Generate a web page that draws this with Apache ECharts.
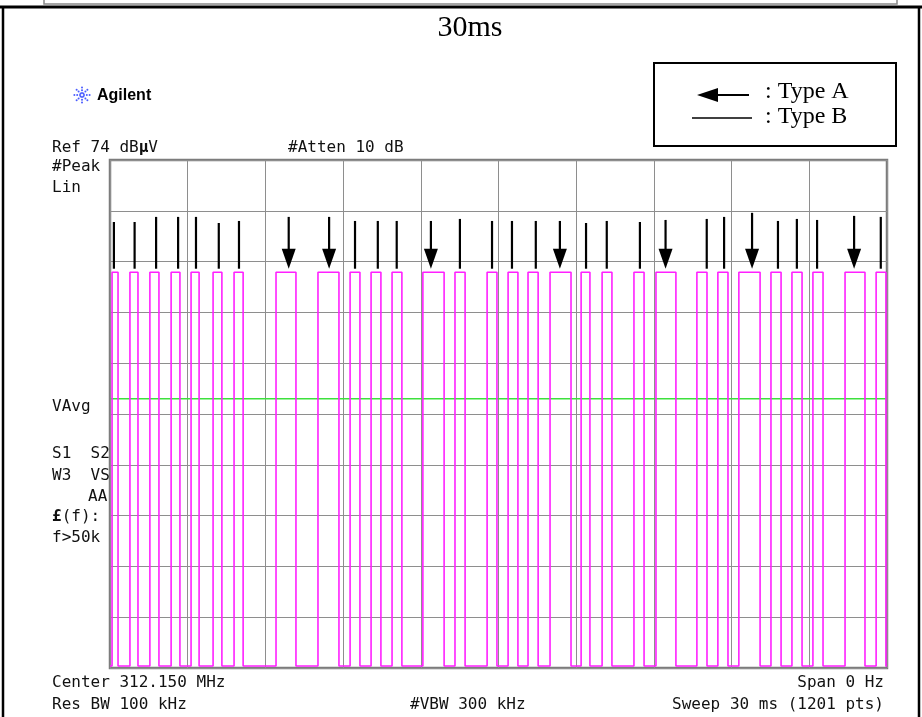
<!DOCTYPE html>
<html>
<head>
<meta charset="utf-8">
<script src="https://cdn.jsdelivr.net/npm/echarts@6/dist/echarts.min.js"></script>
<style>
html,body{margin:0;padding:0;background:#fff;}
#chart{width:922px;height:717px;}
</style>
</head>
<body>
<div id="chart"></div>
<script>
// ---- Data (time in ms, level in % of screen height) ----
var pulseStart = [0.08,0.77,1.54,2.36,3.13,3.98,4.79,6.41,8.03,9.27,10.08,10.89,12.08,13.32,14.56,15.37,16.14,16.99,18.19,19.00,20.23,21.08,22.66,23.47,24.28,25.52,26.33,27.14,28.38,29.58];
var pulseEnd   = [0.31,1.08,1.89,2.70,3.44,4.32,5.14,7.18,8.84,9.65,10.46,11.27,12.90,13.71,14.94,15.75,16.53,17.80,18.53,19.38,20.62,21.85,23.05,23.86,25.10,25.91,26.72,27.53,29.15,29.96];
var pulseHigh = 77.9;
var pulseLow = 0.4;
var markerX    = [0.15,0.95,1.78,2.63,3.32,4.20,4.98,6.90,8.46,9.46,10.34,11.07,12.39,13.51,14.75,15.52,16.44,17.37,18.38,19.18,20.46,21.45,23.04,23.71,24.79,25.79,26.52,27.30,28.73,29.76];
var markerTop  = [87.8,87.8,88.8,88.8,88.8,87.6,88.0,88.8,88.8,88.0,88.0,88.0,88.0,88.4,88.0,88.0,88.0,88.0,87.6,88.0,87.8,88.2,88.4,88.8,89.6,88.0,88.4,88.2,89.0,88.8];
var markerType = ['B','B','B','B','B','B','B','A','A','B','B','B','A','B','B','B','B','A','B','B','B','A','B','B','A','B','B','B','A','B'];
var markerBottom = 78.6;
var vavgLevel = 53.0;
var sweepMs = 30;
var xDivisions = 10;
var yDivisions = 10;

// ---- Build trace from pulse edges ----
var trace = [[0, pulseLow]];
for (var i = 0; i < pulseStart.length; i++) {
  trace.push([pulseStart[i], pulseLow]);
  trace.push([pulseStart[i], pulseHigh]);
  trace.push([pulseEnd[i], pulseHigh]);
  trace.push([pulseEnd[i], pulseLow]);
}
trace.push([sweepMs, pulseLow]);

var markers = markerX.map(function (x, i) { return [x, markerTop[i], markerType[i] === 'A' ? 1 : 0]; });

var mono = '"DejaVu Sans Mono", monospace';
var chart = echarts.init(document.getElementById('chart'));

function txt(x, y, s, align, extra) {
  var o = { type: 'text', x: x, y: y, style: { text: s, font: '16px ' + mono, fill: '#111', textAlign: align || 'left', textVerticalAlign: 'middle' }, z: 10 };
  if (extra) o.style.rich = extra;
  return o;
}

var starDots = [];
(function () {
  var cx = 82, cy = 95;
  for (var k = 0; k < 8; k++) {
    var a = k * Math.PI / 4;
    for (var r = 2; r <= 8; r += 2.8) {
      starDots.push({ type: 'circle', shape: { cx: cx + r * Math.cos(a), cy: cy + r * Math.sin(a), r: 1 }, style: { fill: '#4a5cff' }, z: 10 });
    }
  }
})();

var richMu = { b: { font: 'bold 16px ' + mono, fill: '#111' }, n: { font: '16px ' + mono, fill: '#111' } };

var graphics = [
  // outer frame
  { type: 'rect', shape: { x: 44, y: -2, width: 853, height: 6 }, style: { fill: 'none', stroke: '#888', lineWidth: 1.5 }, z: 5 },
  { type: 'line', shape: { x1: 0, y1: 7, x2: 922, y2: 7 }, style: { stroke: '#000', lineWidth: 3 }, z: 5 },
  { type: 'line', shape: { x1: 3, y1: 7, x2: 3, y2: 717 }, style: { stroke: '#000', lineWidth: 2.5 }, z: 5 },
  { type: 'line', shape: { x1: 919, y1: 7, x2: 919, y2: 717 }, style: { stroke: '#000', lineWidth: 2.5 }, z: 5 },
  // title
  { type: 'text', x: 470, y: 28, style: { text: '30ms', font: '30px "Liberation Serif", serif', fill: '#000', textAlign: 'center', textVerticalAlign: 'middle' }, z: 10 },
  // legend box
  { type: 'rect', shape: { x: 654, y: 63, width: 242, height: 83 }, style: { fill: '#fff', stroke: '#000', lineWidth: 2 }, z: 5 },
  { type: 'line', shape: { x1: 715, y1: 95, x2: 749, y2: 95 }, style: { stroke: '#000', lineWidth: 2 }, z: 10 },
  { type: 'polygon', shape: { points: [[697, 95], [718, 88], [718, 102]] }, style: { fill: '#000' }, z: 10 },
  { type: 'line', shape: { x1: 692, y1: 118, x2: 752, y2: 118 }, style: { stroke: '#000', lineWidth: 1.5 }, z: 10 },
  { type: 'text', x: 765, y: 92, style: { text: ': Type A', font: '24px "Liberation Serif", serif', fill: '#000', textVerticalAlign: 'middle' }, z: 10 },
  { type: 'text', x: 765, y: 117, style: { text: ': Type B', font: '24px "Liberation Serif", serif', fill: '#000', textVerticalAlign: 'middle' }, z: 10 },
  // Agilent logo
  { type: 'text', x: 97, y: 96, style: { text: 'Agilent', font: 'bold 16px "Liberation Sans", Arial, sans-serif', fill: '#000', textVerticalAlign: 'middle' }, z: 10 },
  // analyzer annotations
  { type: 'text', x: 52, y: 148, style: { text: '{n|Ref 74 dB}{b|µ}{n|V}', rich: richMu, font: '16px ' + mono, textVerticalAlign: 'middle' }, z: 10 },
  txt(288, 148, '#Atten 10 dB'),
  txt(52, 167, '#Peak'),
  txt(52, 188, 'Lin'),
  txt(52, 407, 'VAvg'),
  txt(52, 454, 'S1  S2'),
  txt(52, 476, 'W3  VS'),
  txt(88, 497, 'AA'),
  { type: 'text', x: 52, y: 517, style: { text: '{b|£}{n|(f):}', rich: richMu, font: '16px ' + mono, textVerticalAlign: 'middle' }, z: 10 },
  txt(52, 538, 'f>50k'),
  txt(52, 683, 'Center 312.150 MHz'),
  txt(884, 683, 'Span 0 Hz', 'right'),
  txt(52, 705, 'Res BW 100 kHz'),
  txt(410, 705, '#VBW 300 kHz'),
  txt(884, 705, 'Sweep 30 ms (1201 pts)', 'right')
].concat(starDots);

chart.setOption({
  animation: false,
  backgroundColor: '#fff',
  grid: { left: 110, right: 35, top: 160, bottom: 49, show: true, borderColor: '#7c7c7c', borderWidth: 2.5, backgroundColor: 'transparent' },
  xAxis: {
    type: 'value', min: 0, max: sweepMs, interval: sweepMs / xDivisions,
    axisLine: { show: false }, axisTick: { show: false }, axisLabel: { show: false },
    splitLine: { show: true, lineStyle: { color: '#8e8e8e', width: 1 } }
  },
  yAxis: {
    type: 'value', min: 0, max: 100, interval: 100 / yDivisions,
    axisLine: { show: false }, axisTick: { show: false }, axisLabel: { show: false },
    splitLine: { show: true, lineStyle: { color: '#8e8e8e', width: 1 } }
  },
  series: [
    {
      type: 'line', data: [[0, vavgLevel], [sweepMs, vavgLevel]], symbol: 'none',
      lineStyle: { color: '#3ee03e', width: 1.5 }, z: 3, silent: true
    },
    {
      type: 'line', data: trace, symbol: 'none', clip: true,
      lineStyle: { color: '#ff20ff', width: 1.6 }, z: 4, silent: true
    },
    {
      type: 'custom', data: markers, z: 6, silent: true,
      renderItem: function (params, api) {
        var x = api.value(0), top = api.value(1), isA = api.value(2) === 1;
        var pTop = api.coord([x, top]);
        var pBot = api.coord([x, markerBottom]);
        if (!isA) {
          return { type: 'line', shape: { x1: pTop[0], y1: pTop[1], x2: pBot[0], y2: pBot[1] }, style: { stroke: '#000', lineWidth: 2.2 } };
        }
        var headLen = 20, headHalf = 7;
        return {
          type: 'group', children: [
            { type: 'line', shape: { x1: pTop[0], y1: pTop[1], x2: pBot[0], y2: pBot[1] - headLen + 2 }, style: { stroke: '#000', lineWidth: 2.2 } },
            { type: 'polygon', shape: { points: [[pBot[0] - headHalf, pBot[1] - headLen], [pBot[0] + headHalf, pBot[1] - headLen], [pBot[0], pBot[1]]] }, style: { fill: '#000' } }
          ]
        };
      }
    }
  ],
  graphic: graphics
});
</script>
</body>
</html>
